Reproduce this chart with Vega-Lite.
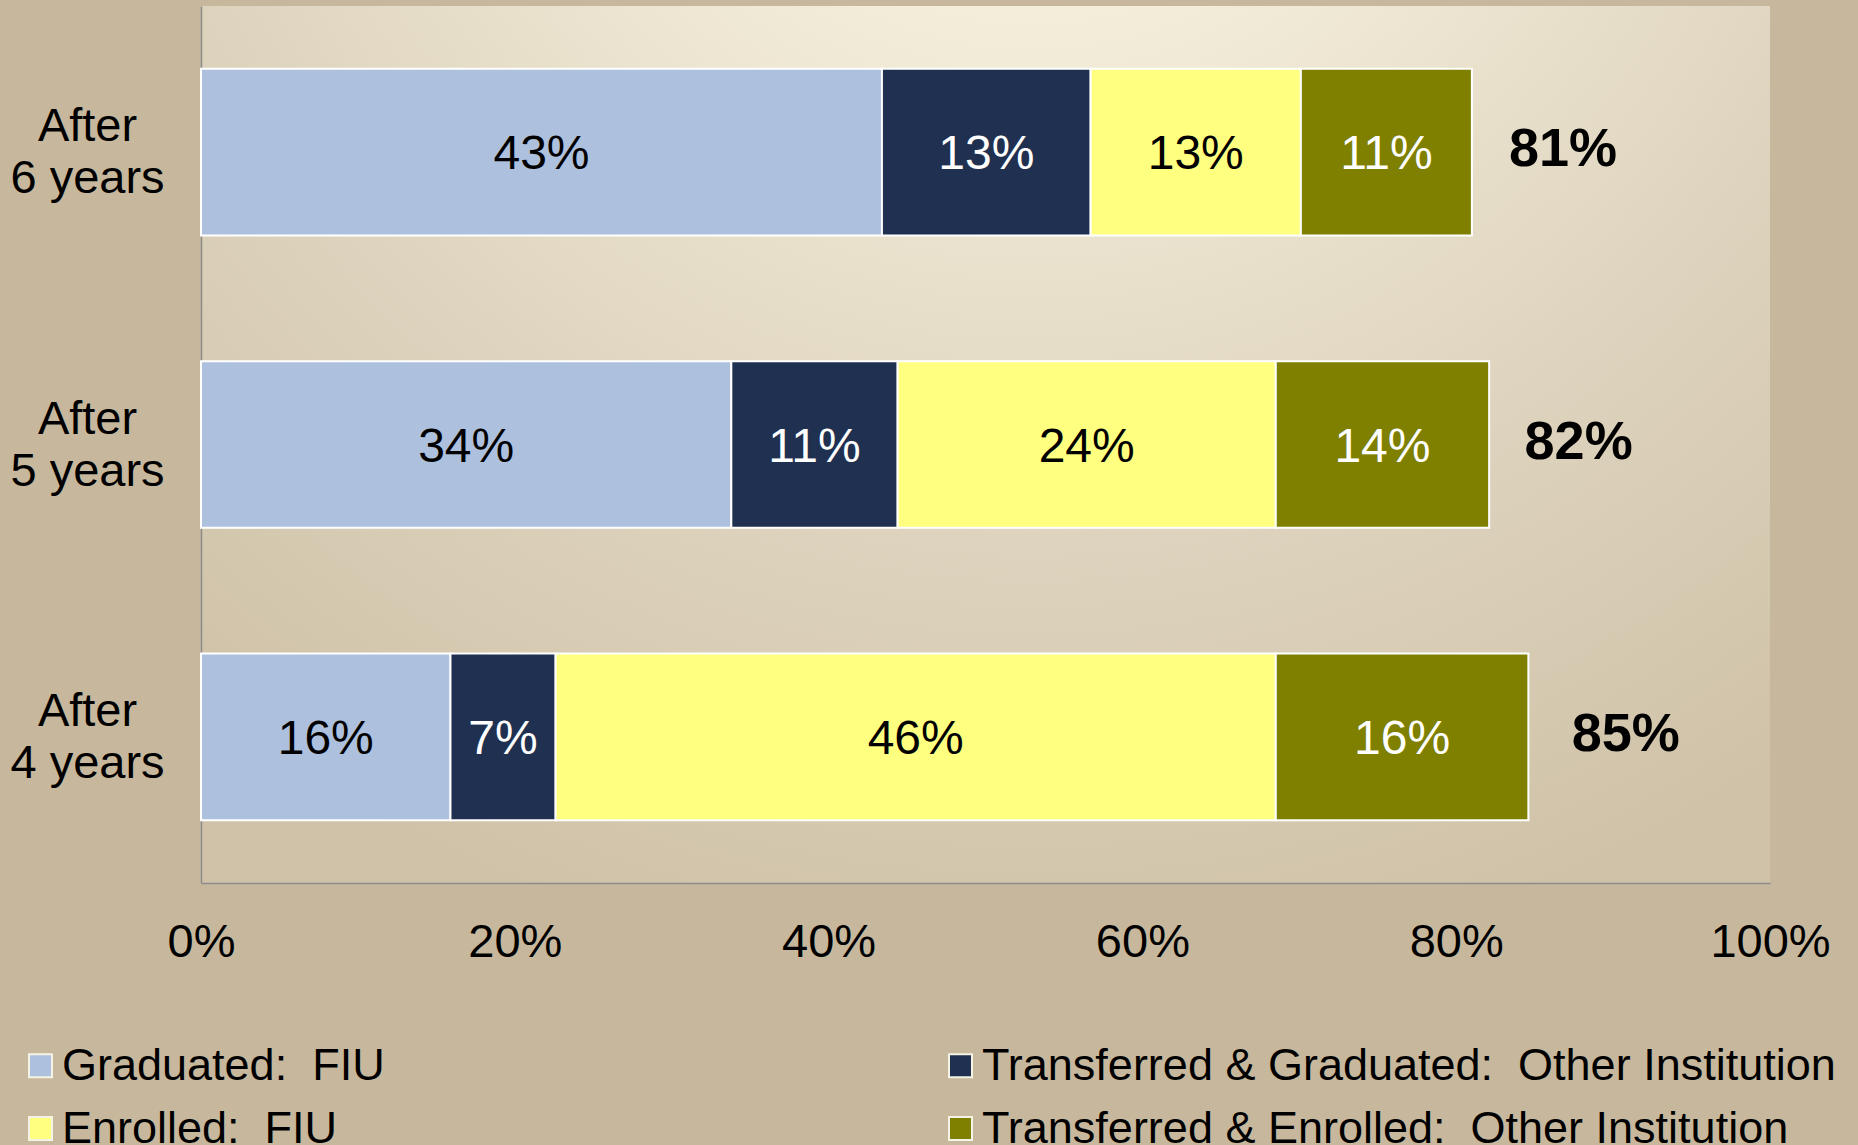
{
  "$schema": "https://vega.github.io/schema/vega-lite/v6.json",
  "width": 1569,
  "height": 877,
  "autosize": {"type": "none"},
  "padding": {"left": 201, "top": 6, "right": 88, "bottom": 262},
  "background": "#c7b89d",
  "config": {
    "font": "Liberation Sans",
    "view": {
      "stroke": null,
      "fill": {
        "gradient": "radial",
        "x1": 0.53, "y1": 0.0, "r1": 0,
        "x2": 0.53, "y2": 0.0, "r2": 0.85,
        "stops": [
          {"offset": 0, "color": "#fffde9"},
          {"offset": 0.35, "color": "#efe8d4"},
          {"offset": 0.7, "color": "#dcd1bb"},
          {"offset": 1, "color": "#cfc2a8"}
        ]
      }
    },
    "axis": {"labelColor": "#000000", "labelFont": "Liberation Sans", "title": null}
  },
  "layer": [
    {
      "data": {
        "values": [
          {"period": "After 6 years", "category": "Graduated:\u00a0 FIU", "ord": 0, "value": 0.434},
          {"period": "After 6 years", "category": "Transferred & Graduated:\u00a0 Other Institution", "ord": 1, "value": 0.133},
          {"period": "After 6 years", "category": "Enrolled:\u00a0 FIU", "ord": 2, "value": 0.134},
          {"period": "After 6 years", "category": "Transferred & Enrolled:\u00a0 Other Institution", "ord": 3, "value": 0.109},
          {"period": "After 5 years", "category": "Graduated:\u00a0 FIU", "ord": 0, "value": 0.338},
          {"period": "After 5 years", "category": "Transferred & Graduated:\u00a0 Other Institution", "ord": 1, "value": 0.106},
          {"period": "After 5 years", "category": "Enrolled:\u00a0 FIU", "ord": 2, "value": 0.241},
          {"period": "After 5 years", "category": "Transferred & Enrolled:\u00a0 Other Institution", "ord": 3, "value": 0.136},
          {"period": "After 4 years", "category": "Graduated:\u00a0 FIU", "ord": 0, "value": 0.159},
          {"period": "After 4 years", "category": "Transferred & Graduated:\u00a0 Other Institution", "ord": 1, "value": 0.067},
          {"period": "After 4 years", "category": "Enrolled:\u00a0 FIU", "ord": 2, "value": 0.459},
          {"period": "After 4 years", "category": "Transferred & Enrolled:\u00a0 Other Institution", "ord": 3, "value": 0.161}
        ]
      },
      "encoding": {
        "y": {
          "field": "period", "type": "nominal",
          "sort": ["After 6 years", "After 5 years", "After 4 years"],
          "scale": {"paddingInner": 0.43, "paddingOuter": 0.215},
          "axis": {
            "title": null, "ticks": false, "labelFontSize": 47, "labelAlign": "center",
            "labelPadding": 114, "labelExpr": "['After', substring(datum.label, 6)]",
            "labelLineHeight": 52, "labelBaseline": "middle", "labelLimit": 0, "labelOffset": -25,
            "domainColor": "#8c8c8c", "domainWidth": 1.5
          }
        },
        "order": {"field": "ord", "type": "quantitative", "sort": "ascending"},
        "detail": {"field": "category", "type": "nominal"}
      },
      "layer": [
        {
          "mark": {"type": "bar", "stroke": "#ffffff", "strokeWidth": 2},
          "encoding": {
            "x": {
              "field": "value", "type": "quantitative", "stack": "zero",
              "scale": {"domain": [0, 1], "nice": false},
              "axis": {
                "title": null, "values": [0, 0.2, 0.4, 0.6, 0.8, 1], "format": ".0%",
                "grid": false, "ticks": false, "labelFontSize": 47, "labelPadding": 36,
                "labelFlush": false, "domainColor": "#8c8c8c", "domainWidth": 1.5
              }
            },
            "color": {
              "field": "category", "type": "nominal",
              "scale": {
                "domain": ["Graduated:\u00a0 FIU", "Enrolled:\u00a0 FIU", "Transferred & Graduated:\u00a0 Other Institution", "Transferred & Enrolled:\u00a0 Other Institution"],
                "range": ["#adc0de", "#ffff80", "#1f3050", "#7f7f00"]
              },
              "legend": {
                "title": null, "orient": "none", "legendX": -183, "legendY": 1037,
                "columns": 2, "columnPadding": 553, "rowPadding": 17,
                "symbolType": "square", "symbolSize": 529, "symbolStrokeColor": "#f5f3e4",
                "symbolStrokeWidth": 2, "symbolOpacity": 1,
                "labelFontSize": 45, "labelOffset": -1, "labelLimit": 0, "labelColor": "#000000",
                "padding": 0
              }
            }
          }
        },
        {
          "mark": {"type": "text", "fontSize": 48, "baseline": "middle", "align": "center", "dy": 3},
          "encoding": {
            "x": {"field": "value", "type": "quantitative", "stack": "zero", "bandPosition": 0.5},
            "text": {"field": "value", "type": "quantitative", "format": ".0%"},
            "color": {
              "condition": {"test": "datum.ord == 1 || datum.ord == 3", "value": "#ffffff"},
              "value": "#000000"
            }
          }
        }
      ]
    },
    {
      "data": {
        "values": [
          {"period": "After 6 years", "total": 0.81},
          {"period": "After 5 years", "total": 0.82},
          {"period": "After 4 years", "total": 0.85}
        ]
      },
      "mark": {"type": "text", "fontSize": 54, "fontWeight": "bold", "align": "left", "baseline": "middle", "dx": 37, "dy": -2, "color": "#000000"},
      "encoding": {
        "y": {"field": "period", "type": "nominal", "sort": ["After 6 years", "After 5 years", "After 4 years"]},
        "x": {"field": "total", "type": "quantitative"},
        "text": {"field": "total", "type": "quantitative", "format": ".0%"}
      }
    }
  ]
}
